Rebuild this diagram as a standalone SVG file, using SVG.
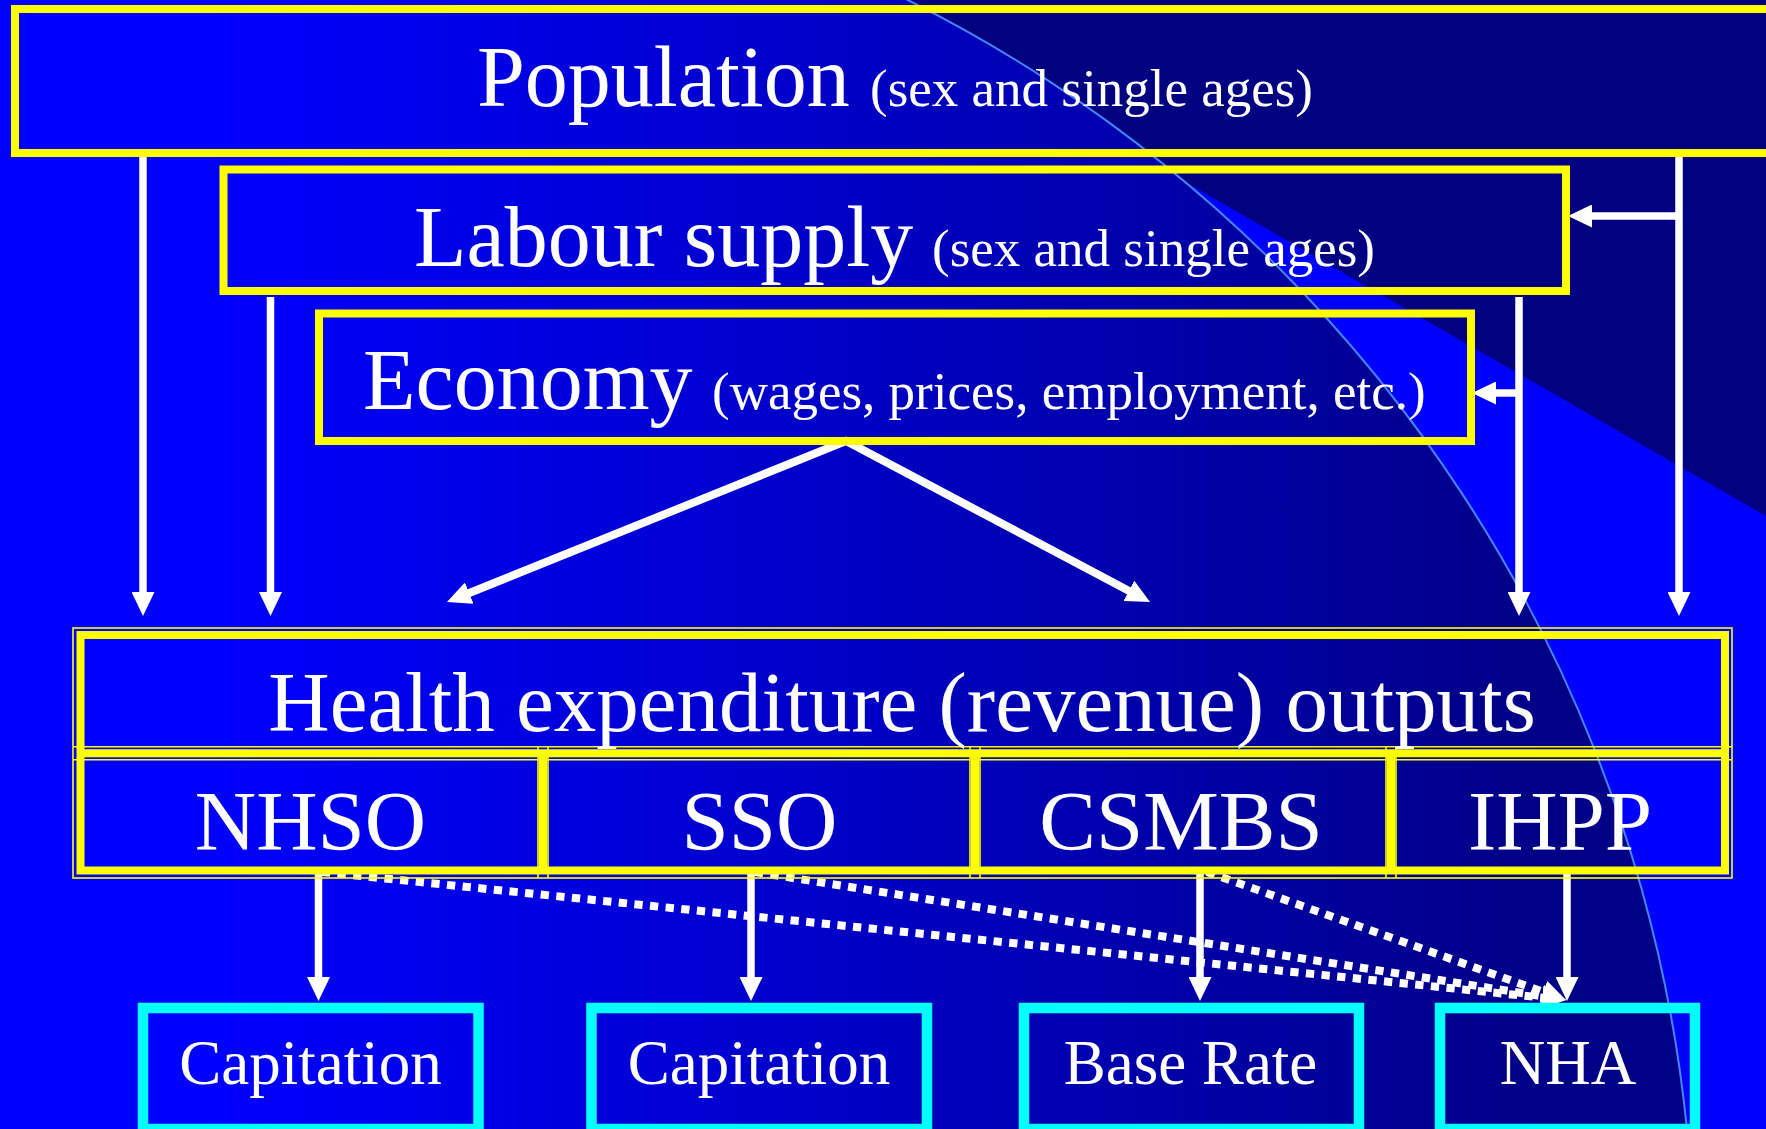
<svg xmlns="http://www.w3.org/2000/svg" width="1766" height="1129" viewBox="0 0 1766 1129">
  <defs>
    <style>
      .t { font-family: "Liberation Serif", "Times New Roman", serif; fill: #ffffff; }
      .big { font-size: 86px; }
      .small { font-size: 53px; }
      .cell { font-size: 85px; text-anchor: middle; }
      .out { font-size: 63px; text-anchor: middle; }
      .ybox { fill: none; stroke: #ffff00; stroke-width: 8; }
      .ythin { fill: none; stroke: #ffff00; stroke-width: 1.6; }
      .cbox { fill: none; stroke: #00ffff; stroke-width: 10.5; }
      .arrow { fill: none; stroke: #ffffff; stroke-width: 7.5; marker-end: url(#ah); }
      .arrow2 { fill: none; stroke: #ffffff; stroke-width: 8; marker-start: url(#ahs); marker-end: url(#ah); stroke-linejoin: miter; }
      .dash { fill: none; stroke: #ffffff; stroke-width: 8; stroke-dasharray: 8.3 7.4; marker-end: url(#ah); }
    </style>
    <linearGradient id="bg" gradientUnits="userSpaceOnUse" x1="200" y1="0" x2="1550" y2="0">
      <stop offset="0" stop-color="#0000ff"/>
      <stop offset="1" stop-color="#000086"/>
    </linearGradient>
    <!-- area outside the large circle -->
    <clipPath id="outside">
      <path clip-rule="evenodd" d="M0,0 H1766 V1129 H0 Z M-1150,1272 A1422,1422 0 1,0 1694,1272 A1422,1422 0 1,0 -1150,1272 Z"/>
    </clipPath>
    <marker id="ah" markerUnits="userSpaceOnUse" viewBox="0 0 24 23" markerWidth="24" markerHeight="23" refX="2" refY="11.5" orient="auto">
      <path d="M0,0 L24,11.5 L0,23 Z" fill="#ffffff"/>
    </marker>
    <marker id="ahs" markerUnits="userSpaceOnUse" viewBox="0 0 24 23" markerWidth="24" markerHeight="23" refX="2" refY="11.5" orient="auto-start-reverse">
      <path d="M0,0 L24,11.5 L0,23 Z" fill="#ffffff"/>
    </marker>
  </defs>

  <!-- background -->
  <g id="background">
    <rect width="1766" height="1129" fill="url(#bg)"/>
    <g clip-path="url(#outside)">
      <rect width="1766" height="1129" fill="#0000ff"/>
      <polygon points="869,0 1766,0 1766,516" fill="#000080"/>
    </g>
    <circle cx="272" cy="1272" r="1422" fill="none" stroke="#4585ff" stroke-width="2"/>
  </g>

  <!-- connectors -->
  <g id="connectors">
    <line class="arrow" x1="143" y1="153" x2="143" y2="594"/>
    <line class="arrow" x1="270.5" y1="297" x2="270.5" y2="594"/>
    <line class="arrow" x1="1679" y1="153" x2="1679" y2="594"/>
    <line class="arrow" x1="1519" y1="297" x2="1519" y2="594"/>
    <line class="arrow" x1="1682" y1="216" x2="1590" y2="216"/>
    <line class="arrow" x1="1522" y1="393" x2="1494" y2="393"/>
    <path class="arrow2" d="M467.4,593.8 L846,441 L1130.6,591.7"/>
    <line class="arrow" x1="318.5" y1="871" x2="318.5" y2="979"/>
    <line class="arrow" x1="751" y1="871" x2="751" y2="979"/>
    <line class="arrow" x1="1200" y1="871" x2="1200" y2="979"/>
    <line class="arrow" x1="1567" y1="871" x2="1567" y2="979"/>
    <line class="dash" x1="322" y1="872" x2="1544.1" y2="997.8"/>
    <line class="dash" x1="755" y1="872" x2="1544.3" y2="996.6"/>
    <line class="dash" x1="1207" y1="872" x2="1545.3" y2="992.6"/>
  </g>

  <g id="population">
    <rect class="ybox" x="15" y="9" width="1770" height="144"/>
    <text class="t" y="106"><tspan class="big" x="477">Population</tspan><tspan class="small" x="870">(sex and single ages)</tspan></text>
  </g>

  <g id="labour">
    <rect class="ybox" x="223.5" y="169.5" width="1342.5" height="121.5"/>
    <text class="t" y="266"><tspan class="big" x="414">Labour supply</tspan><tspan class="small" x="932">(sex and single ages)</tspan></text>
  </g>

  <g id="economy">
    <rect class="ybox" x="319" y="313.5" width="1152" height="127.5"/>
    <text class="t" y="409"><tspan class="big" x="363">Economy</tspan><tspan class="small" x="712">(wages, prices, employment, etc.)</tspan></text>
  </g>

  <g id="health">
    <rect class="ythin" x="73" y="628" width="1659" height="250"/>
    <rect class="ybox" x="80.5" y="635" width="1644.5" height="235.5"/>
    <line class="ythin" x1="73" y1="746.7" x2="1732" y2="746.7"/>
    <line class="ythin" x1="73" y1="759.8" x2="1732" y2="759.8"/>
    <line class="ybox" x1="80" y1="753.3" x2="1725" y2="753.3"/>
    <g>
      <line class="ybox" stroke-width="7" x1="543" y1="753" x2="543" y2="870"/>
      <line class="ythin" x1="538" y1="747" x2="538" y2="878"/>
      <line class="ythin" x1="548" y1="747" x2="548" y2="878"/>
      <line class="ybox" stroke-width="7" x1="975" y1="753" x2="975" y2="870"/>
      <line class="ythin" x1="970" y1="747" x2="970" y2="878"/>
      <line class="ythin" x1="980" y1="747" x2="980" y2="878"/>
      <line class="ybox" stroke-width="7" x1="1391" y1="753" x2="1391" y2="870"/>
      <line class="ythin" x1="1386" y1="747" x2="1386" y2="878"/>
      <line class="ythin" x1="1396" y1="747" x2="1396" y2="878"/>
    </g>
    <text class="t cell" x="902" y="731">Health expenditure (revenue) outputs</text>
  </g>

  <g id="nhso"><text class="t cell" x="310.5" y="850">NHSO</text></g>
  <g id="sso"><text class="t cell" x="759.5" y="850">SSO</text></g>
  <g id="csmbs"><text class="t cell" x="1181" y="850">CSMBS</text></g>
  <g id="ihpp"><text class="t cell" x="1560" y="850">IHPP</text></g>

  <g id="capitation-nhso">
    <rect class="cbox" x="143" y="1008" width="335.5" height="121"/>
    <text class="t out" x="310.5" y="1084">Capitation</text>
  </g>
  <g id="capitation-sso">
    <rect class="cbox" x="591.5" y="1008" width="335.5" height="121"/>
    <text class="t out" x="759" y="1084">Capitation</text>
  </g>
  <g id="base-rate">
    <rect class="cbox" x="1024" y="1008" width="335" height="121"/>
    <text class="t out" x="1190.5" y="1084">Base Rate</text>
  </g>
  <g id="nha">
    <rect class="cbox" x="1440" y="1008" width="255" height="121"/>
    <text class="t out" x="1568" y="1084">NHA</text>
  </g>
</svg>
